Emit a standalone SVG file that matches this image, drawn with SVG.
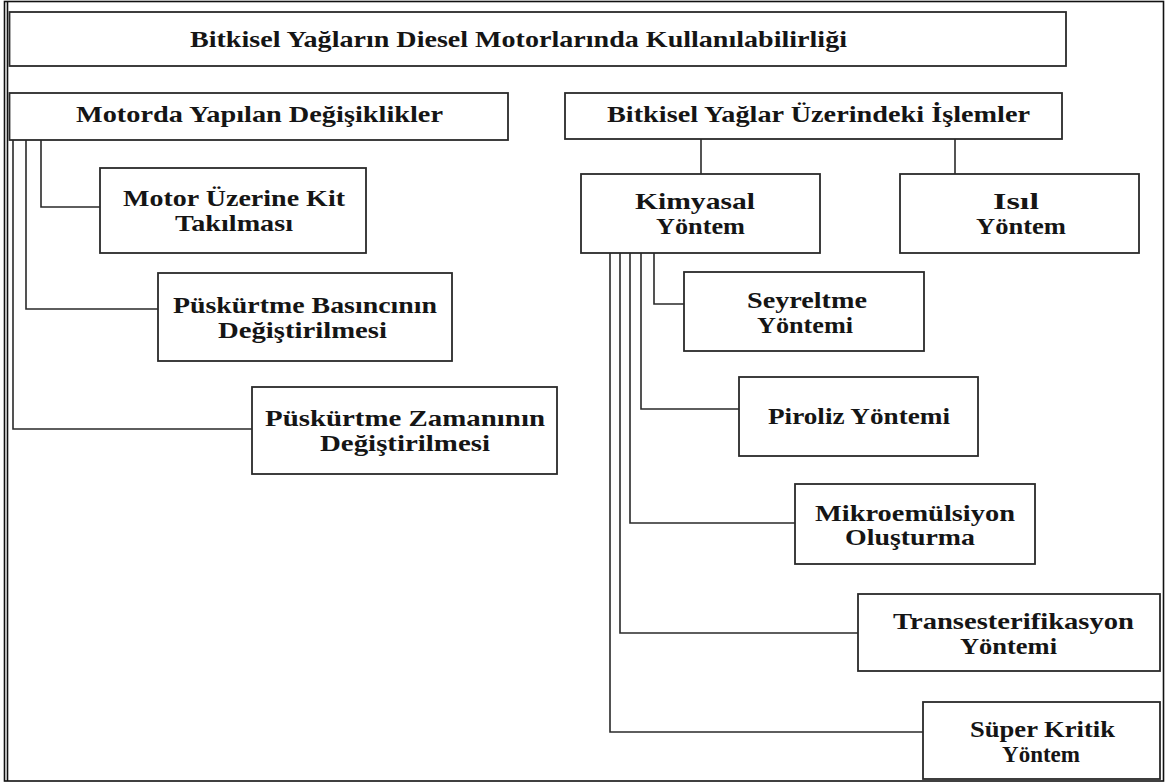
<svg xmlns="http://www.w3.org/2000/svg" width="1168" height="783" viewBox="0 0 1168 783">
<style>
.frame{fill:none;stroke:#111;stroke-width:1.6}
.box{fill:#fff;stroke:#2a2a2a;stroke-width:1.8}
.conn{fill:none;stroke:#2a2a2a;stroke-width:1.6}
text{font-family:"Liberation Serif","Times New Roman",serif;font-weight:bold;font-size:22.5px;fill:#151515}
.t{font-size:23px}
</style>
<rect width="1168" height="783" fill="#fff"/>
<rect class="frame" x="4.5" y="1.5" width="1159" height="779.5"/>
<line class="frame" x1="7.5" y1="1.5" x2="7.5" y2="781"/>
<g id="connectors">
<polyline class="conn" points="41,140 41,207 100,207"/>
<polyline class="conn" points="26,140 26,309 158,309"/>
<polyline class="conn" points="13,140 13,429 252,429"/>
<line class="conn" x1="701" y1="139" x2="701" y2="174"/>
<line class="conn" x1="955" y1="139" x2="955" y2="174"/>
<polyline class="conn" points="654,253 654,304 684,304"/>
<polyline class="conn" points="641,253 641,409 739,409"/>
<polyline class="conn" points="630,253 630,523 795,523"/>
<polyline class="conn" points="620,253 620,633 858,633"/>
<polyline class="conn" points="610,253 610,732 923,732"/>
</g>
<g id="title">
<rect class="box" x="9.5" y="12" width="1056.5" height="54"/>
<text class="t" x="190" y="47" textLength="657" lengthAdjust="spacingAndGlyphs">Bitkisel Yağların Diesel Motorlarında Kullanılabilirliği</text>
</g>
<g id="motorda">
<rect class="box" x="9.5" y="93" width="498.5" height="47"/>
<text class="t" x="76" y="122" textLength="367" lengthAdjust="spacingAndGlyphs">Motorda Yapılan Değişiklikler</text>
</g>
<g id="islemler">
<rect class="box" x="565" y="93" width="497" height="46"/>
<text class="t" x="607" y="122" textLength="423" lengthAdjust="spacingAndGlyphs">Bitkisel Yağlar Üzerindeki İşlemler</text>
</g>
<g id="kit">
<rect class="box" x="100" y="168" width="266" height="85"/>
<text x="123" y="206" textLength="222" lengthAdjust="spacingAndGlyphs">Motor Üzerine Kit</text>
<text x="175" y="231" textLength="118" lengthAdjust="spacingAndGlyphs">Takılması</text>
</g>
<g id="basinc">
<rect class="box" x="158" y="273" width="294" height="88"/>
<text x="173" y="313" textLength="264" lengthAdjust="spacingAndGlyphs">Püskürtme Basıncının</text>
<text x="218" y="338" textLength="169" lengthAdjust="spacingAndGlyphs">Değiştirilmesi</text>
</g>
<g id="zaman">
<rect class="box" x="252" y="387" width="305" height="87"/>
<text x="265" y="426" textLength="280" lengthAdjust="spacingAndGlyphs">Püskürtme  Zamanının</text>
<text x="320" y="451" textLength="170" lengthAdjust="spacingAndGlyphs">Değiştirilmesi</text>
</g>
<g id="kimyasal">
<rect class="box" x="581" y="174" width="239" height="79"/>
<text x="635" y="209" textLength="120" lengthAdjust="spacingAndGlyphs">Kimyasal</text>
<text x="656" y="234" textLength="89" lengthAdjust="spacingAndGlyphs">Yöntem</text>
</g>
<g id="isil">
<rect class="box" x="900" y="174" width="239" height="79"/>
<text x="993" y="209" textLength="46" lengthAdjust="spacingAndGlyphs">Isıl</text>
<text x="976" y="234" textLength="90" lengthAdjust="spacingAndGlyphs">Yöntem</text>
</g>
<g id="seyreltme">
<rect class="box" x="684" y="272" width="240" height="79"/>
<text x="747" y="308" textLength="120" lengthAdjust="spacingAndGlyphs">Seyreltme</text>
<text x="757" y="333" textLength="96" lengthAdjust="spacingAndGlyphs">Yöntemi</text>
</g>
<g id="piroliz">
<rect class="box" x="739" y="377" width="239" height="79"/>
<text x="768" y="424" textLength="182" lengthAdjust="spacingAndGlyphs">Piroliz Yöntemi</text>
</g>
<g id="mikro">
<rect class="box" x="795" y="484" width="240" height="80"/>
<text x="815" y="521" textLength="200" lengthAdjust="spacingAndGlyphs">Mikroemülsiyon</text>
<text x="845" y="545" textLength="130" lengthAdjust="spacingAndGlyphs">Oluşturma</text>
</g>
<g id="trans">
<rect class="box" x="858" y="594" width="302" height="77"/>
<text x="893" y="629" textLength="241" lengthAdjust="spacingAndGlyphs">Transesterifikasyon</text>
<text x="960" y="654" textLength="97" lengthAdjust="spacingAndGlyphs">Yöntemi</text>
</g>
<g id="super">
<rect class="box" x="923" y="702" width="237" height="77"/>
<text x="970" y="737" textLength="145" lengthAdjust="spacingAndGlyphs">Süper Kritik</text>
<text x="1002" y="762" textLength="78" lengthAdjust="spacingAndGlyphs">Yöntem</text>
</g>
</svg>
